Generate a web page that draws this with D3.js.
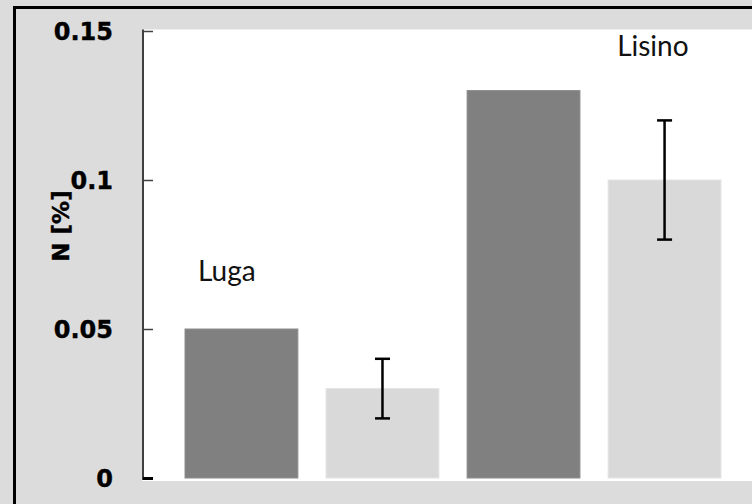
<!DOCTYPE html>
<html>
<head>
<meta charset="utf-8">
<script src="https://cdn.jsdelivr.net/npm/d3@7"></script>
<style>
  body { margin: 0; background: #dcdcdc; }
  svg { display: block; }
  .tick text { font-family: "DejaVu Sans", sans-serif; font-weight: bold; font-size: 24px; fill: #000; stroke: #000; stroke-width: 0.4px; }
  .site { font-family: Lato, "Open Sans", sans-serif; font-size: 28px; fill: #111; }
</style>
</head>
<body>
<div id="chart"></div>
<script>
// data
var sites = ["Luga", "Lisino"];
var seriesNames = ["dark", "light"];
var darkValues = [0.05, 0.13];
var lightValues = [0.03, 0.10];
var lightErr = [0.01, 0.02];
var yTicks = [0, 0.05, 0.1, 0.15];
var yTickLabels = ["0", "0.05", "0.1", "0.15"];
var yTitle = "N [%]";

var W = 752, H = 504;
var plot = {left: 142, top: 29.5, right: 764, bottom: 481};

var svg = d3.select("#chart").append("svg")
    .attr("width", W)
    .attr("height", H);

// outer frame (only top and left edges are inside the window)
svg.append("rect")
    .attr("x", 0).attr("y", 0).attr("width", W).attr("height", H)
    .attr("fill", "#dcdcdc");
svg.append("rect")
    .attr("x", 14.5).attr("y", 7.5)
    .attr("width", W + 20).attr("height", H + 20)
    .attr("fill", "none")
    .attr("stroke", "#000")
    .attr("stroke-width", 3);

// white plot area
svg.append("rect")
    .attr("x", plot.left).attr("y", plot.top)
    .attr("width", W - plot.left).attr("height", plot.bottom - plot.top)
    .attr("fill", "#fff");

// one flat row of bars: site x series
var bars = [];
sites.forEach(function(s, i) {
  bars.push({key: s + "-" + seriesNames[0], site: s, series: seriesNames[0], value: darkValues[i], err: null});
  bars.push({key: s + "-" + seriesNames[1], site: s, series: seriesNames[1], value: lightValues[i], err: lightErr[i]});
});

var x = d3.scaleBand()
    .domain(bars.map(function(d) { return d.key; }))
    .range([plot.left, plot.right])
    .paddingInner(0.2)
    .paddingOuter(0.305);

var y = d3.scaleLinear()
    .domain([0, 0.15])
    .range([478, 31]);

var color = d3.scaleOrdinal()
    .domain(seriesNames)
    .range(["#808080", "#d9d9d9"]);
var edge = d3.scaleOrdinal()
    .domain(seriesNames)
    .range(["#8c8c8c", "#e4e4e4"]);

svg.append("g").attr("class", "bars")
  .selectAll("rect")
    .data(bars)
  .enter().append("rect")
    .attr("x", function(d) { return x(d.key); })
    .attr("y", function(d) { return y(d.value); })
    .attr("width", x.bandwidth())
    .attr("height", function(d) { return y(0) - y(d.value); })
    .attr("fill", function(d) { return color(d.series); })
    .attr("stroke", function(d) { return edge(d.series); })
    .attr("stroke-width", 1);

// error bars
var eb = svg.append("g").attr("class", "errors")
  .selectAll("g")
    .data(bars.filter(function(d) { return d.err != null; }))
  .enter().append("g")
    .attr("stroke", "#000")
    .attr("stroke-width", 2.5);

eb.append("line")
    .attr("x1", function(d) { return x(d.key) + x.bandwidth() / 2; })
    .attr("x2", function(d) { return x(d.key) + x.bandwidth() / 2; })
    .attr("y1", function(d) { return y(d.value - d.err); })
    .attr("y2", function(d) { return y(d.value + d.err); });
[-1, 1].forEach(function(sign) {
  eb.append("line")
      .attr("x1", function(d) { return x(d.key) + x.bandwidth() / 2 - 7.5; })
      .attr("x2", function(d) { return x(d.key) + x.bandwidth() / 2 + 7.5; })
      .attr("y1", function(d) { return y(d.value + sign * d.err); })
      .attr("y2", function(d) { return y(d.value + sign * d.err); });
});

// y axis, ticks pointing inward
var yAxis = d3.axisLeft(y)
    .tickValues(yTicks)
    .tickFormat(function(d, i) { return yTickLabels[i]; })
    .tickSizeInner(-10)
    .tickSizeOuter(0)
    .tickPadding(30);

var gy = svg.append("g")
    .attr("transform", "translate(" + (plot.left + 1) + ",0)")
    .call(yAxis);
gy.select(".domain")
    .attr("stroke", "#404040")
    .attr("stroke-width", 2)
    .attr("d", "M0," + plot.top + "V" + (y(0) + 2));
gy.selectAll(".tick line")
    .attr("stroke", "#404040")
    .attr("stroke-width", 1.5);
gy.selectAll(".tick text").attr("dy", "0.36em");
gy.selectAll(".tick").filter(function(d) { return d === 0; }).select("line")
    .attr("stroke", "#000")
    .attr("stroke-width", 3);

svg.append("text")
    .attr("transform", "translate(69,226) rotate(-90)")
    .attr("text-anchor", "middle")
    .style("font-family", "'DejaVu Sans', sans-serif")
    .style("font-weight", "bold")
    .style("font-size", "23px")
    .style("stroke", "#000")
    .style("stroke-width", "0.4px")
    .text(yTitle);

// site labels
var siteLabel = [
  {x: x(sites[0] + "-" + seriesNames[0]) + 13, y: y(0.066)},
  {x: x(sites[1] + "-" + seriesNames[1]) + 9, y: y(0.1416)}
];
svg.selectAll(".site")
    .data(sites)
  .enter().append("text")
    .attr("class", "site")
    .attr("x", function(d, i) { return siteLabel[i].x; })
    .attr("y", function(d, i) { return siteLabel[i].y; })
    .text(function(d) { return d; });
</script>
</body>
</html>
